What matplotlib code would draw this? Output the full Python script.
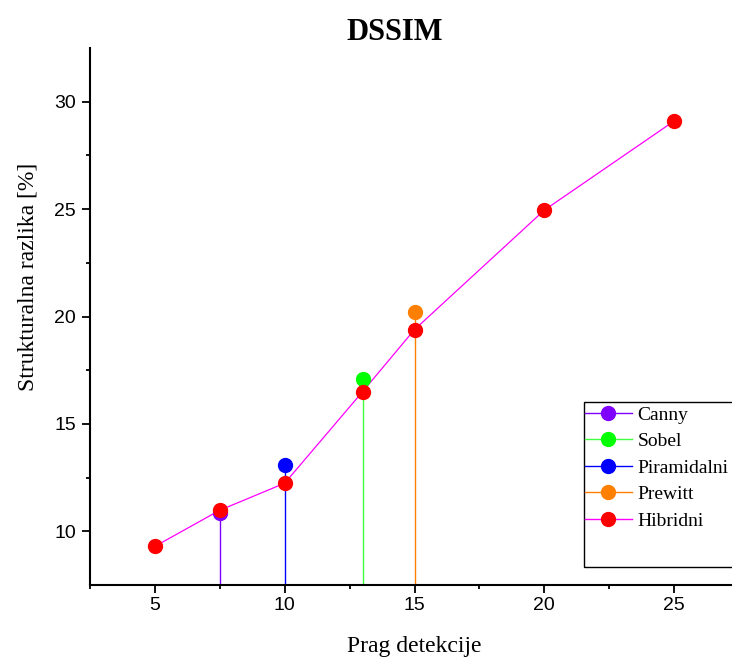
import matplotlib
matplotlib.use("Agg")
import matplotlib.pyplot as plt
from matplotlib.lines import Line2D
from matplotlib.patches import Rectangle

# data
hib_x = [5, 7.5, 10, 13, 15, 20, 25]
hib_y = [9.3, 10.98, 12.24, 16.5, 19.39, 24.95, 29.1]

canny_x, canny_y = [7.5], [10.84]
sobel_x, sobel_y = [13], [17.1]
piram_x, piram_y = [10], [13.08]
prew_x, prew_y = [15], [20.19]

names = ["Canny", "Sobel", "Piramidalni", "Prewitt", "Hibridni"]
line_cols = ["#8000ff", "#40ff40", "#0000ff", "#ff8000", "#ff00ff"]
mark_cols = ["#8000ff", "#00ff00", "#0000ff", "#ff8000", "#ff0000"]

serif = "Liberation Serif"
sans = "Liberation Sans"

fig = plt.figure(figsize=(7.32, 6.62), dpi=100)
ax = fig.add_axes([90/732, 77/662, 649/732, 537/662])

ymin = 7.5
singles = [(canny_x, canny_y), (sobel_x, sobel_y), (piram_x, piram_y), (prew_x, prew_y)]
for i, (xs, ys) in enumerate(singles):
  ax.vlines(xs, ymin, ys, color=line_cols[i], lw=1, zorder=2)

ax.plot(hib_x, hib_y, color=line_cols[4], lw=0.9, zorder=3)

for i, (xs, ys) in enumerate(singles):
  ax.plot(xs, ys, "o", ms=10, color=mark_cols[i], zorder=4)
ax.plot(hib_x, hib_y, "o", ms=10, color=mark_cols[4], zorder=5)

ax.set_xlim(2.5, 27.5)
ax.set_ylim(7.5, 32.5)
ax.set_xticks([5, 10, 15, 20, 25])
ax.set_xticks([2.5, 7.5, 12.5, 17.5, 22.5, 27.5], minor=True)
ax.set_yticks([10, 15, 20, 25, 30])
ax.set_yticks([12.5, 17.5, 22.5, 27.5], minor=True)

for s in ["top", "right"]:
  ax.spines[s].set_visible(False)
for s in ["left", "bottom"]:
  ax.spines[s].set_linewidth(1.5)

ax.tick_params(which="major", direction="out", length=6, width=1.3, pad=4)
ax.tick_params(which="minor", direction="out", length=3, width=1.3)
ax.tick_params(axis="x", pad=3)
for lab in ax.get_xticklabels() + ax.get_yticklabels():
  lab.set_fontfamily(sans)
  lab.set_fontsize(14)

ax.set_xlabel("Prag detekcije", fontfamily=serif, fontsize=17)
ax.xaxis.set_label_coords(0.5, -0.095)
ax.set_ylabel("Strukturalna razlika [%]", fontfamily=serif, fontsize=17)
ax.yaxis.set_label_coords(-0.08, 0.574)

fig.text(395/732, (662-40)/662, "DSSIM", fontfamily=serif, fontsize=22,
         fontweight="bold", ha="center", va="baseline")

# legend box runs past the right edge of the figure
fig.patches.append(Rectangle((584/732, (662-567)/662), 170/732, 165/662,
                             transform=fig.transFigure, fill=False,
                             edgecolor="black", lw=1))
handles = []
for i in range(5):
  handles.append(Line2D([], [], color=line_cols[i], lw=1, marker="o", ms=10,
                        mfc=mark_cols[i], mec=mark_cols[i]))
fig.legend(handles, names, loc="upper left",
           bbox_to_anchor=(581/732, (662-402)/662), frameon=False,
           prop={"family": serif, "size": 14}, borderpad=0.2,
           borderaxespad=0, labelspacing=0.46, handlelength=2.4,
           handletextpad=0.3)

fig.savefig("out.png", dpi=100)
